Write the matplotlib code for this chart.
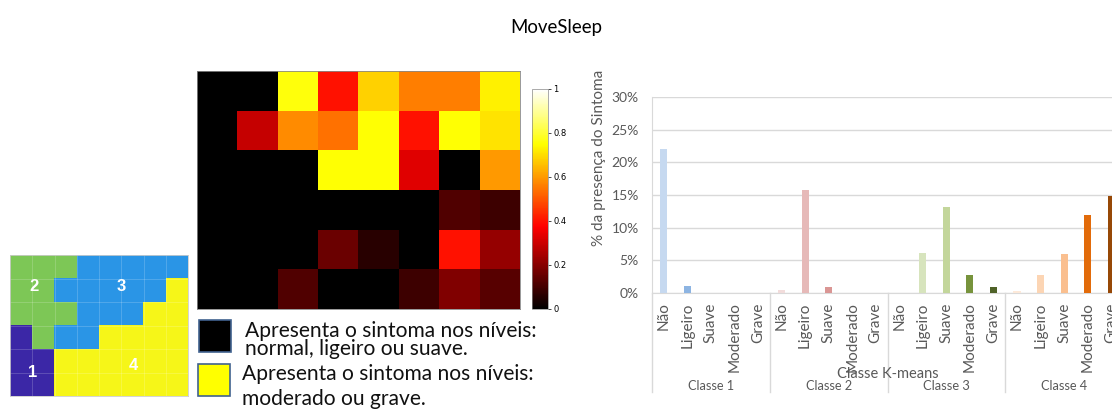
import numpy as np
import matplotlib
matplotlib.use("Agg")
import matplotlib.pyplot as plt
from matplotlib.colors import ListedColormap, LinearSegmentedColormap
from matplotlib.patches import Rectangle
from matplotlib.lines import Line2D
from matplotlib.transforms import blended_transform_factory

# ---------------- data ----------------
cluster_map = [
    [2, 2, 2, 3, 3, 3, 3, 3],
    [2, 2, 3, 3, 3, 3, 3, 4],
    [2, 2, 2, 3, 3, 3, 4, 4],
    [1, 2, 3, 3, 4, 4, 4, 4],
    [1, 1, 4, 4, 4, 4, 4, 4],
    [1, 1, 4, 4, 4, 4, 4, 4],
]
cluster_colors = ["#3B27A6", "#7DC756", "#2A95E6", "#F6F618"]
cluster_labels = ["1", "2", "3", "4"]
cluster_label_pos = [(0.53, 4.48), (0.58, 0.82), (4.49, 0.82), (5.03, 4.22)]

heat_values = [
    [0.00, 0.00, 0.76, 0.40, 0.68, 0.56, 0.56, 0.73],
    [0.00, 0.29, 0.58, 0.54, 0.75, 0.40, 0.75, 0.71],
    [0.00, 0.00, 0.00, 0.75, 0.75, 0.33, 0.00, 0.60],
    [0.00, 0.00, 0.00, 0.00, 0.00, 0.00, 0.12, 0.09],
    [0.00, 0.00, 0.00, 0.16, 0.06, 0.00, 0.40, 0.22],
    [0.00, 0.00, 0.12, 0.00, 0.00, 0.09, 0.19, 0.13],
]
cbar_ticks = [0, 0.2, 0.4, 0.6, 0.8, 1]

legend_lines = [
    ["Apresenta o sintoma nos níveis:", "normal, ligeiro ou suave."],
    ["Apresenta o sintoma nos níveis:", "moderado ou grave."],
]
legend_colors = ["#000000", "#FFFF00"]

levels = ["Não", "Ligeiro", "Suave", "Moderado", "Grave"]
classes = ["Classe 1", "Classe 2", "Classe 3", "Classe 4"]
values_c1 = [22.0, 1.1, 0.0, 0.0, 0.0]
values_c2 = [0.4, 15.7, 0.9, 0.0, 0.0]
values_c3 = [0.0, 6.1, 13.2, 2.7, 0.9]
values_c4 = [0.2, 2.7, 6.0, 12.0, 14.9]
colors_c1 = ["#C6D9F0", "#8DB4E2", "#8DB4E2", "#538DD5", "#1F497D"]
colors_c2 = ["#F2DCDB", "#E6B9B8", "#DA9694", "#C0504D", "#963634"]
colors_c3 = ["#EBF1DE", "#D7E4BD", "#C3D69B", "#77933C", "#4F6228"]
colors_c4 = ["#FDE9D9", "#FCD5B4", "#FABF8F", "#E26B0A", "#974806"]
yticks = [0, 5, 10, 15, 20, 25, 30]

# ---------------- figure ----------------
W, H = 1112, 412
fig = plt.figure(figsize=(W / 100, H / 100), dpi=100)
fig.patch.set_facecolor("white")
renderer = fig.canvas.get_renderer()
FONT = "Lato"


def px_axes(x0, y0, x1, y1):
    return fig.add_axes([x0 / W, 1 - y1 / H, (x1 - x0) / W, (y1 - y0) / H])


def fit_text(t, target_w):
    w = t.get_window_extent(renderer).width
    t.set_fontsize(t.get_fontsize() * target_w / w)
    return t


t = fig.text(556 / W, 1 - 27 / H, "MoveSleep", ha="center", va="center",
             fontsize=15, family=FONT)
fit_text(t, 92)

# cluster map
axc = px_axes(10, 255, 188, 396)
axc.imshow(np.array(cluster_map), cmap=ListedColormap(cluster_colors),
           vmin=0.5, vmax=4.5, aspect="auto", interpolation="nearest")
for i in range(1, 8):
    axc.axvline(i - 0.5, color="white", lw=0.5, alpha=0.25)
for j in range(1, 6):
    axc.axhline(j - 0.5, color="white", lw=0.5, alpha=0.25)
for lab, (x, y) in zip(cluster_labels, cluster_label_pos):
    axc.text(x, y, lab, color="white", fontsize=12, fontweight="bold",
             ha="center", va="center", family="Liberation Sans")
axc.set_xticks([]); axc.set_yticks([])
for s in axc.spines.values():
    s.set_color("#cccccc"); s.set_linewidth(0.6)

# heat map (hot colormap starting from pure black)
hot_black = LinearSegmentedColormap("hot_black", {
    "red": [(0, 0, 0), (0.375, 1, 1), (1, 1, 1)],
    "green": [(0, 0, 0), (0.375, 0, 0), (0.75, 1, 1), (1, 1, 1)],
    "blue": [(0, 0, 0), (0.75, 0, 0), (1, 1, 1)],
})
axh = px_axes(197, 71, 520, 309)
im = axh.imshow(np.array(heat_values), cmap=hot_black, vmin=0, vmax=1,
                aspect="auto", interpolation="nearest")
axh.set_xticks([]); axh.set_yticks([])
for s in axh.spines.values():
    s.set_color("#888888"); s.set_linewidth(0.6)

axcb = px_axes(532, 89, 548, 309)
cb = fig.colorbar(im, cax=axcb, ticks=cbar_ticks)
cb.ax.set_yticklabels([f"{t:g}" for t in cbar_ticks])
cb.ax.tick_params(labelsize=6, length=2, width=0.5, pad=2)
cb.outline.set_linewidth(0.5)
cb.outline.set_edgecolor("#888888")

# legend boxes + texts
axl = px_axes(190, 312, 580, 412)
axl.set_xlim(190, 580); axl.set_ylim(412, 312)
axl.axis("off")
box_pos = [(199, 320), (198, 364)]
text_x = [245, 242]
baselines = [[337, 355], [380, 405]]
for (bx, by), col, tx, bls, lines in zip(box_pos, legend_colors, text_x, baselines, legend_lines):
    axl.add_patch(Rectangle((bx, by), 32, 32, facecolor=col,
                            edgecolor="#41628F", lw=1.2))
    for bl, line in zip(bls, lines):
        t = axl.text(tx, bl, line, ha="left", va="baseline", fontsize=14,
                     family=FONT, color="#111111")
        if line.startswith("Apresenta"):
            fit_text(t, 292)
            fs = t.get_fontsize()
        else:
            t.set_fontsize(fs)

# bar chart (extends past the right edge, as in the reference)
bx0, by0, bx1, by1 = 652, 97.3, 1123, 292.8
axb = px_axes(bx0, by0, bx1, by1)
all_vals = values_c1 + values_c2 + values_c3 + values_c4
all_cols = colors_c1 + colors_c2 + colors_c3 + colors_c4
n = len(all_vals)
xpos = np.arange(n) + 0.5
axb.bar(xpos, [v / 100 for v in all_vals], width=0.3, color=all_cols, zorder=3)
axb.set_xlim(0, n)
axb.set_ylim(0, 0.30)
axb.set_yticks([t / 100 for t in yticks])
axb.set_yticklabels([f"{t}%" for t in yticks], family=FONT)
axb.yaxis.grid(True, color="#D9D9D9", lw=1.0, zorder=0)
axb.tick_params(axis="y", length=0, pad=9.5, labelsize=10, labelcolor="#595959")
axb.set_xticks([])
for k in ["top", "right"]:
    axb.spines[k].set_visible(False)
axb.spines["bottom"].set_color("#D9D9D9")
axb.spines["left"].set_color("#D9D9D9")

trans = blended_transform_factory(axb.transData, axb.transAxes)
ah = by1 - by0
for i, x in enumerate(xpos):
    axb.text(x, -9.8 / ah, levels[i % 5], rotation=90, ha="center", va="top",
             fontsize=11, color="#595959", transform=trans, family=FONT)
for g in range(len(classes) + 1):
    axb.add_line(Line2D([g * 5, g * 5], [0, -99 / ah], transform=trans,
                        color="#D9D9D9", lw=1.0, clip_on=False))
for g, cname in enumerate(classes):
    t = axb.text(g * 5 + 2.5, -93.6 / ah, cname, ha="center", va="center",
                 fontsize=10, color="#595959", transform=trans, family=FONT)
    fit_text(t, 46.5)
t = axb.text(10, -81 / ah, "Classe K-means", ha="center", va="center",
             fontsize=12, color="#595959", transform=trans, family=FONT)
fit_text(t, 101)
t = fig.text(599 / W, 1 - 158 / H, "% da presença do Sintoma", rotation=90,
             ha="center", va="center", fontsize=11, color="#595959", family=FONT)

fig.savefig("out.png", dpi=100, facecolor="white")
